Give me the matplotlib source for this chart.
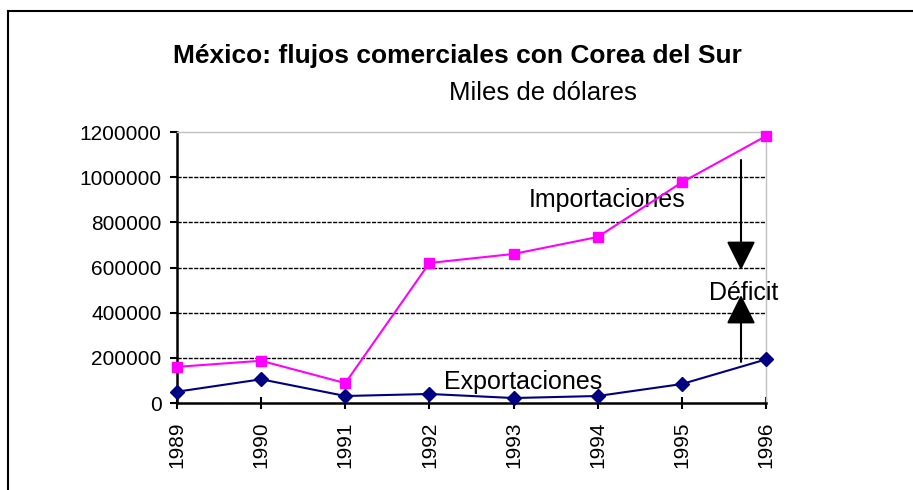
import matplotlib
matplotlib.use('Agg')
import matplotlib.pyplot as plt
from matplotlib.lines import Line2D

# ── Data ──────────────────────────────────────────────────────────────────────
YEARS        = ['1989', '1990', '1991', '1992', '1993', '1994', '1995', '1996']
IMPORTACIONES = [160000, 187000, 88000, 620000, 660000, 735000, 977000, 1182000]
EXPORTACIONES = [50000, 105000, 31000, 40000, 22000, 31000, 84000, 193000]
Y_TICKS      = [0, 200000, 400000, 600000, 800000, 1000000, 1200000]

TITLE    = 'México: flujos comerciales con Corea del Sur'
SUBTITLE = 'Miles de dólares'

plt.rcParams['font.family'] = ['Liberation Sans', 'DejaVu Sans']

# ── Figure ────────────────────────────────────────────────────────────────────
W, H = 913, 490
fig = plt.figure(figsize=(W / 100, H / 100), dpi=100)
ax = fig.add_axes([177 / W, 1 - 403 / H, (766 - 177) / W, (403 - 132) / H])

xs = list(range(len(YEARS)))
ax.plot(xs, IMPORTACIONES, color='#FF00FF', lw=1.5, marker='s', ms=7,
        mfc='#FF00FF', mec='#FF00FF', zorder=4, clip_on=False)
ax.plot(xs, EXPORTACIONES, color='#000080', lw=1.5, marker='D', ms=7,
        mfc='#000080', mec='#000080', zorder=4, clip_on=False)

ax.set_xlim(0, len(YEARS) - 1)
ax.set_ylim(0, 1200000)
ax.set_xticks(xs)
ax.set_xticklabels(YEARS, rotation=90, fontsize=15)
ax.set_yticks(Y_TICKS)
ax.set_yticklabels([str(v) for v in Y_TICKS], fontsize=15)

ax.tick_params(axis='x', direction='inout', length=9, width=1.5, pad=9)
ax.tick_params(axis='y', direction='out', length=5, width=1.5, pad=6)

ax.grid(axis='y', color='black', linestyle=(0, (3, 1)), lw=1)
grid = ax.get_ygridlines()
grid[0].set_visible(False)
grid[-1].set_visible(False)
ax.set_axisbelow(True)

for side in ['left', 'bottom']:
    ax.spines[side].set_linewidth(1.8)
    ax.spines[side].set_color('black')
for side in ['top', 'right']:
    ax.spines[side].set_linewidth(1)
    ax.spines[side].set_color('#c0c0c0')

# ── Annotations ───────────────────────────────────────────────────────────────
ax.text(5.117, 868000, 'Importaciones', fontsize=18, ha='center', va='baseline')
ax.text(4.11, 62000, 'Exportaciones', fontsize=18, ha='center', va='baseline')
ax.text(6.73, 456000, 'Déficit', fontsize=18, ha='center', va='baseline')

ARROW_X = 6.703
arrow_kw = dict(arrowstyle='-|>,head_length=1.0,head_width=0.5', color='black',
                lw=1.5, mutation_scale=18, shrinkA=0, shrinkB=0)
ax.annotate('', xy=(ARROW_X, 589000), xytext=(ARROW_X, 1076000), arrowprops=arrow_kw)
ax.annotate('', xy=(ARROW_X, 478000), xytext=(ARROW_X, 182000), arrowprops=arrow_kw)

# ── Titles ────────────────────────────────────────────────────────────────────
fig.text(457 / W, 1 - 56 / H, TITLE, fontsize=19, fontweight='bold',
         ha='center', va='center')
fig.text(543 / W, 1 - 93 / H, SUBTITLE, fontsize=18.5, ha='center', va='center')

# chart border (left and top edges visible)
fig.add_artist(Line2D([8 / W, 1.0], [1 - 11 / H, 1 - 11 / H], color='black', lw=1.5))
fig.add_artist(Line2D([8 / W, 8 / W], [0, 1 - 11 / H], color='black', lw=1.5))

fig.savefig('out.png', dpi=100)
plt.close(fig)
